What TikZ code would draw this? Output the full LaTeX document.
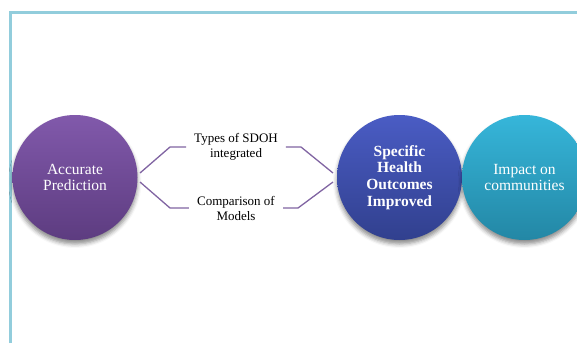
\documentclass[tikz,border=0pt]{standalone}
\usepackage{fontspec}
\setmainfont{Liberation Serif}
\usetikzlibrary{shadows.blur,calc}

\definecolor{frameblue}{HTML}{92CDDC}
\definecolor{linkpurple}{HTML}{8064A2}
\definecolor{purpletop}{HTML}{8159AB}
\definecolor{purplebot}{HTML}{5D3C80}
\definecolor{bluetop}{HTML}{4A5CC4}
\definecolor{bluebot}{HTML}{31408E}
\definecolor{tealtop}{HTML}{36B6DA}
\definecolor{tealbot}{HTML}{2387A5}

\tikzset{
  bubble/.style={circle, minimum size=125pt, inner sep=0pt, text=white,
    align=center, font=\fontsize{15.5}{16.5}\selectfont,
    blur shadow={shadow xshift=0pt, shadow yshift=-4pt, shadow blur radius=4pt, shadow opacity=45}},
  topic/.style={align=center, inner xsep=8pt, inner ysep=2pt,
    font=\fontsize{13}{15}\selectfont},
  link/.style={draw=linkpurple, line width=1.3pt},
  frame/.style={draw=frameblue, line width=3pt}
}

\begin{document}
\begin{tikzpicture}[x=1pt, y=-1pt]
  \useasboundingbox (0,0) rectangle (577,343);
  \begin{scope}
    \clip (0,0) rectangle (577,343);

    % slide frame: top and left rules
    \draw[frame] (10.5,343) -- (10.5,12) -- (577,12);

    % circles
    \node[bubble, top color=purpletop, bottom color=purplebot] (pred) at (75,177.5)
      {Accurate\\Prediction};
    \node[bubble, top color=bluetop, bottom color=bluebot,
      font=\fontsize{15.5}{16.8}\selectfont\bfseries] (outc) at (399.5,177.5)
      {Specific\\Health\\Outcomes\\Improved};
    \node[bubble, top color=tealtop, bottom color=tealbot] (impact) at (524.5,177.5)
      {Impact on\\communities};

    % topic labels
    \node[topic] (types) at (236,147) {Types of SDOH\\integrated};
    \node[topic] (comp) at (236,208) {Comparison of\\Models};

    % bracket connectors
    \draw[link] ($(pred.center)+(65,-4.5)$) -- ++(30,-26) -- (types.west);
    \draw[link] ($(pred.center)+(65,4.5)$) -- ++(30,26) -- (comp.west);
    \draw[link] (types.east) -- ++(15,0) -- ($(outc.center)+(-66.5,-4.5)$);
    \draw[link] (comp.east) -- ++(15,0) -- ($(outc.center)+(-66.5,4.5)$);
  \end{scope}
\end{tikzpicture}
\end{document}
